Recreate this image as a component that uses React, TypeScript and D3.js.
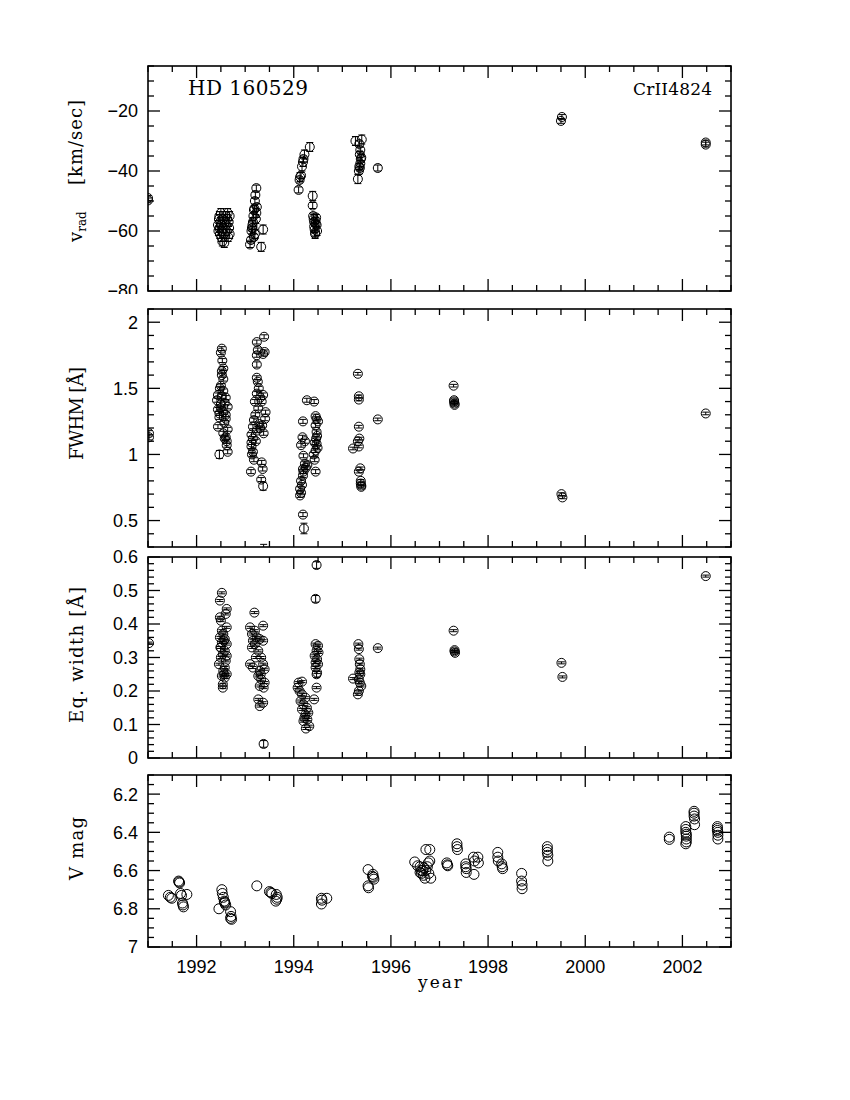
import React from 'react';
import * as d3 from 'd3';

// HD 160529 time series, four stacked panels sharing one year axis

// [year, value, error]
const vradPoints: number[][] = [
  [1991.0, -49.0, 0.8], [1991.0, -49.8, 0.8],
  [1992.44, -58, 1.5], [1992.45, -60, 1.5], [1992.46, -56, 1.5], [1992.47, -55, 1.5], [1992.47, -59, 1.5],
  [1992.48, -61, 1.5], [1992.49, -57, 1.5], [1992.5, -54, 1.5], [1992.5, -58, 1.5], [1992.51, -62, 1.5],
  [1992.52, -60, 1.5], [1992.53, -63.5, 1.5], [1992.54, -56, 1.5], [1992.55, -59, 1.5], [1992.56, -61, 1.5],
  [1992.57, -64, 1.5], [1992.58, -57, 1.5], [1992.6, -55, 1.5], [1992.61, -58, 1.5], [1992.62, -60, 1.5],
  [1992.63, -56, 1.5], [1992.64, -54, 1.5], [1992.65, -62, 1.5], [1992.66, -57, 1.5], [1992.67, -59, 1.5],
  [1992.68, -55, 1.5], [1992.68, -61, 1.5],
  [1993.1, -64.5, 1], [1993.12, -63, 1], [1993.13, -60, 1], [1993.14, -59, 1], [1993.15, -58, 1.5],
  [1993.16, -57, 1.5], [1993.17, -55, 1], [1993.18, -53, 1], [1993.19, -52.5, 1], [1993.2, -50, 1],
  [1993.21, -48, 1], [1993.23, -45.7, 1], [1993.2, -61, 1.5], [1993.22, -56, 1.5], [1993.23, -54, 1.5],
  [1993.24, -52, 1], [1993.18, -62, 1], [1993.15, -59, 2],
  [1993.37, -59.5, 1.5], [1993.33, -65.3, 1.5],
  [1994.1, -46.3, 1], [1994.12, -43, 1], [1994.13, -42, 1.5], [1994.15, -41.5, 1], [1994.17, -38.5, 1.5],
  [1994.19, -37, 1.5], [1994.2, -36, 1], [1994.22, -34.5, 1.5], [1994.33, -32, 1.5],
  [1994.39, -48.3, 1.5], [1994.39, -51.5, 1], [1994.4, -55, 1], [1994.41, -56, 1.5], [1994.42, -57, 1],
  [1994.42, -58.5, 1.5], [1994.43, -59.5, 1], [1994.44, -60.5, 2], [1994.45, -57.5, 1], [1994.46, -55.5, 1],
  [1994.47, -58, 1], [1994.48, -60, 1.5], [1994.44, -61, 1], [1994.45, -56.5, 1],
  [1995.27, -30, 1.5], [1995.4, -29.5, 1.5], [1995.35, -31, 1], [1995.37, -33, 1], [1995.36, -34.5, 1],
  [1995.38, -36, 1], [1995.37, -37.5, 1], [1995.35, -38.5, 1], [1995.34, -40, 1], [1995.32, -42.7, 1.5],
  [1995.39, -35.5, 1], [1995.36, -39, 1],
  [1995.73, -39, 1],
  [1999.52, -22, 0.8], [1999.5, -23.3, 0.8],
  [2002.48, -30.5, 0.8], [2002.48, -31.2, 0.8],
];

const fwhmPoints: number[][] = [
  [1991.02, 1.16, 0.02], [1991.02, 1.13, 0.02],
  [1992.52, 1.8, 0.015], [1992.5, 1.77, 0.015], [1992.53, 1.71, 0.015], [1992.55, 1.65, 0.015], [1992.52, 1.6, 0.015],
  [1992.55, 1.57, 0.015], [1992.5, 1.52, 0.015], [1992.55, 1.48, 0.015], [1992.44, 1.45, 0.015], [1992.6, 1.43, 0.015],
  [1992.42, 1.41, 0.015], [1992.5, 1.38, 0.015], [1992.64, 1.36, 0.015], [1992.44, 1.34, 0.015], [1992.55, 1.32, 0.015],
  [1992.47, 1.28, 0.015], [1992.6, 1.27, 0.015], [1992.44, 1.21, 0.015], [1992.64, 1.19, 0.015], [1992.55, 1.16, 0.015],
  [1992.6, 1.13, 0.015], [1992.62, 1.1, 0.015], [1992.64, 1.02, 0.015], [1992.47, 1.0, 0.03],
  [1992.48, 1.5, 0.015], [1992.52, 1.44, 0.015], [1992.58, 1.39, 0.015], [1992.47, 1.31, 0.015], [1992.57, 1.24, 0.015],
  [1992.52, 1.63, 0.015], [1992.58, 1.12, 0.015], [1992.62, 1.07, 0.015], [1992.5, 1.35, 0.015], [1992.6, 1.3, 0.015],
  [1993.24, 1.85, 0.015], [1993.39, 1.89, 0.015], [1993.26, 1.79, 0.015], [1993.4, 1.775, 0.015], [1993.24, 1.75, 0.015],
  [1993.37, 1.76, 0.015], [1993.24, 1.68, 0.02], [1993.24, 1.58, 0.015], [1993.26, 1.55, 0.015], [1993.28, 1.5, 0.015],
  [1993.24, 1.46, 0.015], [1993.31, 1.43, 0.015], [1993.37, 1.45, 0.015], [1993.34, 1.4, 0.015], [1993.2, 1.4, 0.015],
  [1993.27, 1.35, 0.015], [1993.42, 1.32, 0.015], [1993.41, 1.27, 0.015], [1993.29, 1.23, 0.015], [1993.16, 1.21, 0.015],
  [1993.31, 1.2, 0.015], [1993.24, 1.18, 0.015], [1993.13, 1.15, 0.015], [1993.16, 1.12, 0.015], [1993.13, 1.09, 0.015],
  [1993.13, 1.06, 0.015], [1993.16, 1.02, 0.015], [1993.14, 1.0, 0.015], [1993.18, 0.96, 0.015], [1993.12, 0.87, 0.015],
  [1993.34, 0.94, 0.015], [1993.36, 0.89, 0.015], [1993.33, 0.81, 0.015], [1993.37, 0.76, 0.03],
  [1993.38, 1.16, 0.015], [1993.35, 1.22, 0.015], [1993.21, 1.3, 0.015], [1993.18, 1.26, 0.015], [1993.22, 1.1, 0.015],
  [1993.38, 0.2, 0.12],
  [1994.13, 0.69, 0.015], [1994.15, 0.71, 0.015], [1994.13, 0.74, 0.015], [1994.17, 0.77, 0.015], [1994.15, 0.8, 0.015],
  [1994.19, 0.84, 0.015], [1994.2, 0.87, 0.015], [1994.19, 0.89, 0.015], [1994.25, 0.9, 0.015], [1994.23, 0.93, 0.015],
  [1994.28, 0.92, 0.015], [1994.2, 0.99, 0.015], [1994.15, 1.07, 0.015], [1994.23, 1.1, 0.015], [1994.18, 1.13, 0.015],
  [1994.19, 1.25, 0.015], [1994.27, 1.41, 0.015], [1994.42, 1.4, 0.015], [1994.19, 0.545, 0.015], [1994.21, 0.44, 0.04],
  [1994.45, 1.29, 0.015], [1994.47, 1.27, 0.015], [1994.45, 1.22, 0.015], [1994.47, 1.17, 0.015], [1994.46, 1.12, 0.015],
  [1994.43, 1.09, 0.015], [1994.47, 1.08, 0.015], [1994.45, 1.03, 0.015], [1994.43, 0.96, 0.015], [1994.45, 0.87, 0.015],
  [1994.5, 1.25, 0.015], [1994.49, 1.05, 0.015], [1994.41, 1.0, 0.015], [1994.48, 1.14, 0.015],
  [1995.32, 1.61, 0.01], [1995.34, 1.44, 0.01], [1995.34, 1.415, 0.01], [1995.34, 1.21, 0.01], [1995.35, 1.12, 0.01],
  [1995.32, 1.1, 0.01], [1995.22, 1.045, 0.01], [1995.34, 1.06, 0.01], [1995.37, 0.895, 0.01], [1995.34, 0.87, 0.01],
  [1995.38, 0.8, 0.01], [1995.38, 0.78, 0.01], [1995.39, 0.765, 0.01], [1995.39, 0.755, 0.01],
  [1995.73, 1.265, 0.01],
  [1997.29, 1.52, 0.01], [1997.3, 1.41, 0.01], [1997.3, 1.4, 0.01], [1997.31, 1.385, 0.01], [1997.31, 1.375, 0.01],
  [1999.51, 0.7, 0.01], [1999.53, 0.675, 0.01],
  [2002.48, 1.31, 0.01],
];

const ewPoints: number[][] = [
  [1991.02, 0.343, 0.003],
  [1992.52, 0.493, 0.003], [1992.48, 0.47, 0.003], [1992.62, 0.445, 0.003], [1992.6, 0.43, 0.003], [1992.48, 0.42, 0.003],
  [1992.5, 0.41, 0.003], [1992.62, 0.39, 0.003], [1992.52, 0.38, 0.003], [1992.55, 0.37, 0.003], [1992.48, 0.36, 0.003],
  [1992.58, 0.355, 0.003], [1992.52, 0.345, 0.003], [1992.62, 0.34, 0.003], [1992.49, 0.33, 0.003], [1992.58, 0.32, 0.003],
  [1992.54, 0.31, 0.003], [1992.62, 0.305, 0.003], [1992.5, 0.3, 0.003], [1992.46, 0.28, 0.003], [1992.58, 0.27, 0.003],
  [1992.55, 0.26, 0.003], [1992.62, 0.25, 0.003], [1992.52, 0.245, 0.003], [1992.58, 0.24, 0.003], [1992.54, 0.22, 0.003],
  [1992.54, 0.21, 0.003], [1992.56, 0.35, 0.003], [1992.6, 0.29, 0.003], [1992.5, 0.33, 0.003], [1992.57, 0.25, 0.003],
  [1993.19, 0.434, 0.003], [1993.37, 0.395, 0.003], [1993.1, 0.39, 0.003], [1993.2, 0.38, 0.003], [1993.14, 0.37, 0.003],
  [1993.24, 0.36, 0.003], [1993.16, 0.35, 0.003], [1993.3, 0.355, 0.003], [1993.37, 0.35, 0.003], [1993.2, 0.34, 0.003],
  [1993.14, 0.33, 0.003], [1993.27, 0.32, 0.003], [1993.33, 0.3, 0.003], [1993.1, 0.28, 0.003], [1993.16, 0.27, 0.003],
  [1993.37, 0.28, 0.003], [1993.3, 0.26, 0.003], [1993.4, 0.265, 0.003], [1993.27, 0.245, 0.003], [1993.33, 0.235, 0.003],
  [1993.4, 0.225, 0.003], [1993.3, 0.215, 0.003], [1993.38, 0.21, 0.003], [1993.27, 0.175, 0.003], [1993.37, 0.165, 0.003],
  [1993.3, 0.155, 0.003], [1993.38, 0.042, 0.01], [1993.22, 0.3, 0.003], [1993.32, 0.25, 0.003],
  [1994.1, 0.225, 0.003], [1994.17, 0.228, 0.003], [1994.08, 0.21, 0.003], [1994.17, 0.19, 0.003], [1994.14, 0.17, 0.003],
  [1994.24, 0.18, 0.003], [1994.2, 0.16, 0.003], [1994.27, 0.15, 0.003], [1994.17, 0.145, 0.003], [1994.3, 0.135, 0.003],
  [1994.24, 0.13, 0.003], [1994.28, 0.115, 0.003], [1994.2, 0.11, 0.003], [1994.32, 0.095, 0.003], [1994.25, 0.088, 0.003],
  [1994.12, 0.2, 0.003], [1994.22, 0.12, 0.003],
  [1994.47, 0.576, 0.01], [1994.45, 0.475, 0.01], [1994.45, 0.34, 0.003], [1994.5, 0.335, 0.003], [1994.47, 0.32, 0.003],
  [1994.51, 0.315, 0.003], [1994.43, 0.305, 0.003], [1994.48, 0.295, 0.003], [1994.45, 0.285, 0.003], [1994.5, 0.28, 0.003],
  [1994.45, 0.27, 0.003], [1994.48, 0.255, 0.003], [1994.47, 0.25, 0.01], [1994.47, 0.21, 0.003], [1994.42, 0.175, 0.003],
  [1995.33, 0.34, 0.003], [1995.34, 0.325, 0.003], [1995.35, 0.295, 0.003], [1995.36, 0.28, 0.003], [1995.37, 0.265, 0.003],
  [1995.35, 0.255, 0.003], [1995.37, 0.25, 0.003], [1995.22, 0.237, 0.003], [1995.34, 0.235, 0.003], [1995.36, 0.225, 0.003],
  [1995.39, 0.215, 0.003], [1995.32, 0.19, 0.003], [1995.34, 0.2, 0.003],
  [1995.73, 0.328, 0.003],
  [1997.29, 0.38, 0.003], [1997.31, 0.322, 0.003], [1997.31, 0.318, 0.003], [1997.32, 0.314, 0.003],
  [1999.51, 0.284, 0.003], [1999.53, 0.242, 0.003],
  [2002.48, 0.543, 0.003],
];

// [year, V]
const vmagPoints: number[][] = [
  [1991.42, 6.73], [1991.46, 6.74], [1991.49, 6.745],
  [1991.63, 6.655], [1991.64, 6.66], [1991.65, 6.665], [1991.67, 6.72], [1991.69, 6.73], [1991.8, 6.725],
  [1991.71, 6.77], [1991.72, 6.78], [1991.73, 6.79],
  [1992.46, 6.8], [1992.52, 6.7], [1992.53, 6.72], [1992.55, 6.74], [1992.57, 6.76], [1992.58, 6.77],
  [1992.6, 6.78], [1992.58, 6.765], [1992.7, 6.815], [1992.71, 6.84], [1992.72, 6.855], [1992.7, 6.85],
  [1993.24, 6.68],
  [1993.5, 6.71], [1993.53, 6.715], [1993.55, 6.72], [1993.64, 6.725], [1993.65, 6.75], [1993.63, 6.76], [1993.66, 6.74],
  [1994.57, 6.745], [1994.58, 6.755], [1994.57, 6.775], [1994.68, 6.745],
  [1995.53, 6.595], [1995.53, 6.68], [1995.54, 6.69], [1995.63, 6.62], [1995.64, 6.635], [1995.65, 6.645], [1995.62, 6.63],
  [1996.49, 6.555], [1996.55, 6.575], [1996.6, 6.58], [1996.62, 6.6], [1996.63, 6.615], [1996.67, 6.625],
  [1996.7, 6.64], [1996.72, 6.6], [1996.75, 6.58], [1996.77, 6.56], [1996.8, 6.55], [1996.8, 6.49],
  [1996.72, 6.49], [1996.82, 6.64], [1996.65, 6.6], [1996.68, 6.585], [1996.78, 6.615], [1996.6, 6.61],
  [1997.15, 6.56], [1997.16, 6.57], [1997.17, 6.575],
  [1997.36, 6.46], [1997.36, 6.475], [1997.37, 6.49],
  [1997.54, 6.565], [1997.54, 6.58], [1997.55, 6.59], [1997.55, 6.61], [1997.71, 6.62], [1997.7, 6.53],
  [1997.72, 6.55], [1997.79, 6.53], [1997.8, 6.56],
  [1998.2, 6.505], [1998.2, 6.53], [1998.21, 6.55], [1998.28, 6.565], [1998.29, 6.58], [1998.3, 6.59],
  [1998.69, 6.615], [1998.69, 6.655], [1998.7, 6.675], [1998.7, 6.695],
  [1999.22, 6.475], [1999.22, 6.49], [1999.22, 6.505], [1999.23, 6.52], [1999.23, 6.55],
  [2001.73, 6.425], [2001.73, 6.437],
  [2002.07, 6.37], [2002.07, 6.385], [2002.07, 6.4], [2002.08, 6.41], [2002.08, 6.42], [2002.08, 6.435],
  [2002.08, 6.45], [2002.07, 6.46],
  [2002.24, 6.29], [2002.24, 6.3], [2002.24, 6.315], [2002.25, 6.33], [2002.25, 6.36],
  [2002.72, 6.37], [2002.72, 6.38], [2002.72, 6.39], [2002.73, 6.4], [2002.73, 6.415], [2002.73, 6.435],
];

const yearDomain = [1991, 2003];
const yearTicks = [1992, 1994, 1996, 1998, 2000, 2002];

const X0 = 148, X1 = 731;
const SANS = '"Liberation Sans", Arial, sans-serif';
const SERIF = '"DejaVu Serif", serif';

const x = d3.scaleLinear().domain(yearDomain).range([X0, X1]);
const fmt = d3.format('.2~f');

function steps(a: number, b: number, step: number) {
  const lo = Math.min(a, b), hi = Math.max(a, b);
  const out: number[] = [];
  for (let i = Math.ceil(lo / step - 1e-6); i <= Math.floor(hi / step + 1e-6); i++) out.push(i * step);
  return out;
}

type PanelProps = {
  id: string; data: number[][]; domain: number[]; top: number; bottom: number;
  major: number; minor: number; errors: boolean; xLabels?: boolean; labelClip?: number;
  children?: React.ReactNode;
};

function Panel({ id, data, domain, top, bottom, major, minor, errors, xLabels, labelClip, children }: PanelProps) {
  const y = d3.scaleLinear().domain(domain).range([bottom, top]);
  const xMinor = steps(yearDomain[0], yearDomain[1], 0.5);
  const yMinor = steps(domain[0], domain[1], minor);
  const yMajor = steps(domain[0], domain[1], major);
  const isMajorX = (v: number) => Math.abs(v / 2 - Math.round(v / 2)) < 1e-6;
  const isMajorY = (v: number) => Math.abs(v / major - Math.round(v / major)) < 1e-6;
  const r = 4.5, cap = 3.5;
  return (
    <g>
      <defs>
        <clipPath id={'c' + id}><rect x={X0} y={top} width={X1 - X0} height={bottom - top} /></clipPath>
        {labelClip && <clipPath id={'l' + id}><rect x={0} y={0} width={X0} height={labelClip} /></clipPath>}
      </defs>
      <g clipPath={`url(#c${id})`} stroke="#000" strokeWidth={1} fill="none">
        {data.map((d, i) => {
          const cx = x(d[0]), cy = y(d[1]);
          if (!errors) return <circle key={i} cx={cx} cy={cy} r={r + 0.5} />;
          const y1 = y(d[1] - d[2]), y2 = y(d[1] + d[2]);
          return (
            <g key={i}>
              <circle cx={cx} cy={cy} r={r} />
              <line x1={cx} x2={cx} y1={y1} y2={y2} />
              <line x1={cx - cap} x2={cx + cap} y1={y1} y2={y1} />
              <line x1={cx - cap} x2={cx + cap} y1={y2} y2={y2} />
            </g>
          );
        })}
      </g>
      <g stroke="#000" strokeWidth={1.3}>
        {xMinor.map(v => {
          const len = isMajorX(v) ? 12 : 6;
          return (
            <g key={'x' + v}>
              <line x1={x(v)} x2={x(v)} y1={bottom} y2={bottom - len} />
              <line x1={x(v)} x2={x(v)} y1={top} y2={top + len} />
            </g>
          );
        })}
        {yMinor.map(v => {
          const len = isMajorY(v) ? 12 : 6;
          return (
            <g key={'y' + v}>
              <line x1={X0} x2={X0 + len} y1={y(v)} y2={y(v)} />
              <line x1={X1} x2={X1 - len} y1={y(v)} y2={y(v)} />
            </g>
          );
        })}
        <rect x={X0} y={top} width={X1 - X0} height={bottom - top} fill="none" strokeWidth={1.6} />
      </g>
      <g fontFamily={SANS} fontSize={18} textAnchor="end" clipPath={labelClip ? `url(#l${id})` : undefined}>
        {yMajor.map(v => (
          <text key={v} x={138} y={y(v)} dy="0.36em">{fmt(v)}</text>
        ))}
      </g>
      {xLabels && (
        <g fontFamily={SANS} fontSize={18} textAnchor="middle">
          {yearTicks.map(v => <text key={v} x={x(v)} y={973}>{v}</text>)}
        </g>
      )}
      {children}
    </g>
  );
}

export default function App() {
  return (
    <svg width={850} height={1100} style={{ position: 'absolute', left: 0, top: 0, background: '#fff' }}>
      <rect width={850} height={1100} fill="#fff" />
      <Panel id="1" data={vradPoints} domain={[-80, -5]} top={66} bottom={291} major={20} minor={5} errors labelClip={294}>
        <text x={188} y={95} fontFamily={SERIF} fontSize={20} textLength={120} lengthAdjust="spacing">HD 160529</text>
        <text x={633} y={95} fontFamily={SERIF} fontSize={17} textLength={79} lengthAdjust="spacing">CrII4824</text>
        <text transform="translate(82,242) rotate(-90)" fontFamily={SERIF} fontSize={18}>
          <tspan x={0}>v</tspan>
          <tspan fontSize={12} dy={4}>rad</tspan>
          <tspan x={57} dy={-4} textLength={85} lengthAdjust="spacing">[km/sec]</tspan>
        </text>
      </Panel>
      <Panel id="2" data={fwhmPoints} domain={[0.3, 2.1]} top={309} bottom={547} major={0.5} minor={0.1} errors>
        <text transform="translate(83,460) rotate(-90)" fontFamily={SERIF} fontSize={18} textLength={93} lengthAdjust="spacing">FWHM [Å]</text>
      </Panel>
      <Panel id="3" data={ewPoints} domain={[0, 0.6]} top={557} bottom={758} major={0.1} minor={0.02} errors>
        <text transform="translate(83,723) rotate(-90)" fontFamily={SERIF} fontSize={18} textLength={136} lengthAdjust="spacing">Eq. width [Å]</text>
      </Panel>
      <Panel id="4" data={vmagPoints} domain={[7, 6.1]} top={775} bottom={947} major={0.2} minor={0.05} errors={false} xLabels>
        <text transform="translate(83,880) rotate(-90)" fontFamily={SERIF} fontSize={18} textLength={63} lengthAdjust="spacing">V mag</text>
        <text x={440} y={988} fontFamily={SERIF} fontSize={17} textAnchor="middle" textLength={44} lengthAdjust="spacing">year</text>
      </Panel>
    </svg>
  );
}
